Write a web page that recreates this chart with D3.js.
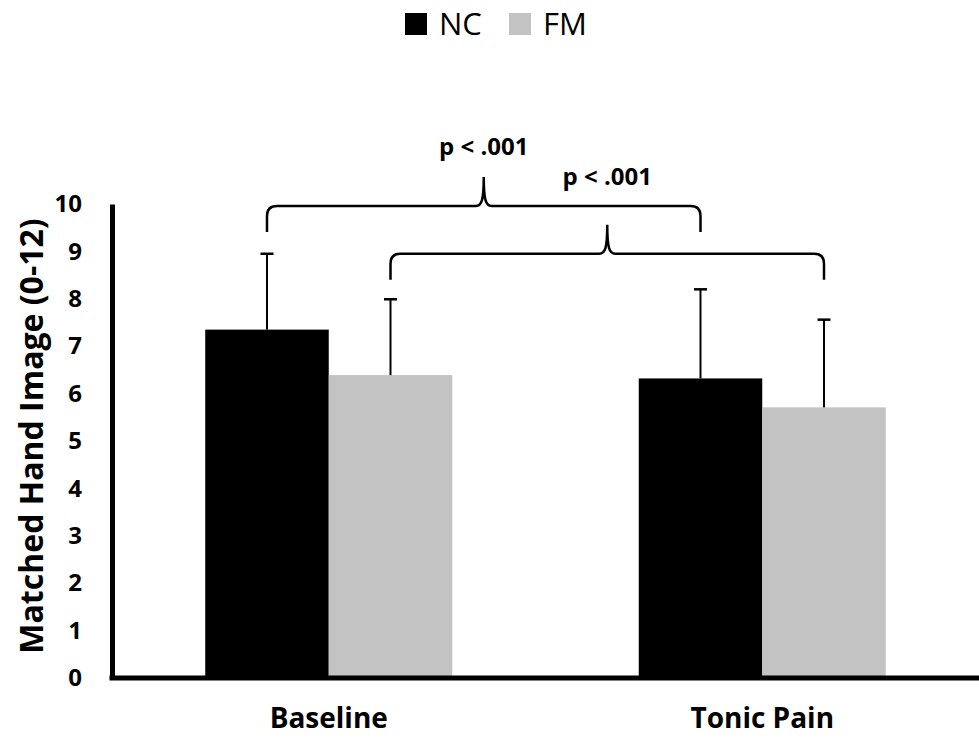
<!DOCTYPE html>
<html>
<head>
<meta charset="utf-8">
<script src="https://cdn.jsdelivr.net/npm/d3@7"></script>
<style>
  body { margin: 0; background: #fff; }
  svg { display: block; font-family: "Open Sans", sans-serif; }
</style>
</head>
<body>
<div id="chart"></div>
<script>
// data
const categories = ["Baseline", "Tonic Pain"];
const series = ["NC", "FM"];
const seriesColors = ["#000000", "#c3c3c3"];
const means = [[7.35, 6.39], [6.32, 5.71]];   // [category][series]
const errors = [[1.60, 1.60], [1.88, 1.85]];  // upper SD
const yTicks = [0, 1, 2, 3, 4, 5, 6, 7, 8, 9, 10];
// brackets: series index, end / line / peak / label heights in data units
const brackets = [
  {s: 0, label: "p < .001", end: 9.41, line: 9.96, peak: 10.57, text: 11.03},
  {s: 1, label: "p < .001", end: 8.40, line: 8.95, peak: 9.56, text: 10.40}
];

const width = 979, height = 738;
const margin = {top: 204, right: 0, bottom: 60, left: 112};

const svg = d3.select("#chart").append("svg")
  .attr("width", width)
  .attr("height", height);

const x0 = d3.scaleBand()
  .domain(categories)
  .range([margin.left, width - margin.right])
  .padding(0);

const x1 = d3.scaleBand()
  .domain(series)
  .range([0, x0.bandwidth()])
  .paddingInner(0)
  .paddingOuter(0.755);

const y = d3.scaleLinear()
  .domain([0, 10])
  .range([height - margin.bottom, margin.top]);

const color = d3.scaleOrdinal().domain(series).range(seriesColors);

// bars
const groups = svg.append("g").selectAll("g")
  .data(categories)
  .join("g")
  .attr("transform", d => `translate(${x0(d)},0)`);

const barData = (c, ci) => series.map((s, si) => ({s, v: means[ci][si], e: errors[ci][si]}));

groups.selectAll("rect")
  .data(barData)
  .join("rect")
  .attr("x", d => x1(d.s))
  .attr("y", d => y(d.v))
  .attr("width", x1.bandwidth())
  .attr("height", d => y(0) - y(d.v))
  .attr("fill", d => color(d.s));

// error bars (upper only)
const capW = 13;
groups.selectAll("g.err")
  .data(barData)
  .join("g")
  .attr("class", "err")
  .each(function(d) {
    const g = d3.select(this);
    const cx = x1(d.s) + x1.bandwidth() / 2;
    g.append("line")
      .attr("x1", cx).attr("x2", cx)
      .attr("y1", y(d.v)).attr("y2", y(d.v + d.e))
      .attr("stroke", "#000").attr("stroke-width", 2);
    g.append("line")
      .attr("x1", cx - capW / 2).attr("x2", cx + capW / 2)
      .attr("y1", y(d.v + d.e)).attr("y2", y(d.v + d.e))
      .attr("stroke", "#000").attr("stroke-width", 2.5);
  });

// axes
const yAxis = svg.append("g")
  .attr("transform", `translate(${margin.left},0)`)
  .call(d3.axisLeft(y).tickValues(yTicks).tickSize(0).tickSizeOuter(0).tickPadding(30));
yAxis.select(".domain").attr("stroke-width", 5).attr("stroke", "#000");
yAxis.selectAll("text")
  .attr("font-size", 24).attr("font-weight", "bold")
  .attr("font-family", "Open Sans").attr("fill", "#000");

const xAxis = svg.append("g")
  .attr("transform", `translate(0,${y(0)})`)
  .call(d3.axisBottom(x0).tickSize(0).tickSizeOuter(0).tickPadding(30));
xAxis.select(".domain").attr("stroke-width", 5).attr("stroke", "#000")
  .attr("d", `M${margin.left - 2.5},0H${width}`);
xAxis.selectAll("text")
  .attr("font-size", 28).attr("font-weight", "bold")
  .attr("font-family", "Open Sans").attr("fill", "#000");

// y axis title
svg.append("text")
  .attr("transform", `translate(43,436) rotate(-90)`)
  .attr("text-anchor", "middle")
  .attr("font-size", 32)
  .attr("font-weight", "bold")
  .text("Matched Hand Image (0-12)");

// significance braces
const r = 10;
brackets.forEach(b => {
  const xa = x0(categories[0]) + x1(series[b.s]) + x1.bandwidth() / 2;
  const xb = x0(categories[1]) + x1(series[b.s]) + x1.bandwidth() / 2;
  const xm = (xa + xb) / 2;
  const yl = y(b.line), ye = y(b.end), yp = y(b.peak);
  const p = d3.path();
  p.moveTo(xa, ye);
  p.lineTo(xa, yl + r);
  p.quadraticCurveTo(xa, yl, xa + r, yl);
  p.lineTo(xm - 8, yl);
  p.bezierCurveTo(xm - 2, yl, xm, yl - 6, xm, yp);
  p.bezierCurveTo(xm, yl - 6, xm + 2, yl, xm + 8, yl);
  p.lineTo(xb - r, yl);
  p.quadraticCurveTo(xb, yl, xb, yl + r);
  p.lineTo(xb, ye);
  svg.append("path")
    .attr("d", p.toString())
    .attr("fill", "none")
    .attr("stroke", "#000")
    .attr("stroke-width", 2.5);
  svg.append("text")
    .attr("x", xm)
    .attr("y", y(b.text))
    .attr("text-anchor", "middle")
    .attr("font-size", 24)
    .attr("font-weight", "bold")
    .text(b.label);
});

// legend
const legend = svg.append("g").attr("transform", "translate(405,13)");
const legendX = [0, 104];
series.forEach((s, i) => {
  const g = legend.append("g").attr("transform", `translate(${legendX[i]},0)`);
  g.append("rect").attr("width", 22).attr("height", 22).attr("fill", color(s));
  g.append("text")
    .attr("x", 34).attr("y", 22)
    .attr("font-size", 31)
    .text(s);
});
</script>
</body>
</html>
